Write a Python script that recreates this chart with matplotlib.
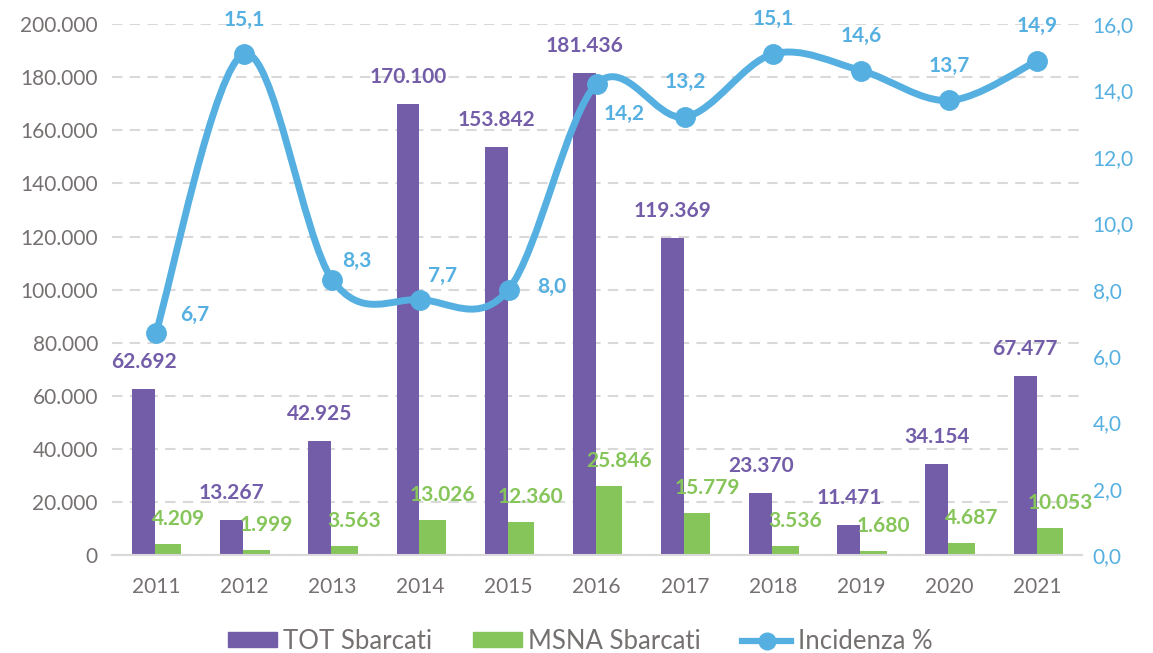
import numpy as np
import matplotlib.pyplot as plt
from matplotlib.path import Path
from matplotlib.patches import PathPatch, Patch
from matplotlib.lines import Line2D
from matplotlib.ticker import FuncFormatter

plt.rcParams['font.family'] = ['Lato', 'DejaVu Sans']

years = ['2011', '2012', '2013', '2014', '2015', '2016', '2017', '2018', '2019', '2020', '2021']
tot = [62692, 13267, 42925, 170100, 153842, 181436, 119369, 23370, 11471, 34154, 67477]
msna = [4209, 1999, 3563, 13026, 12360, 25846, 15779, 3536, 1680, 4687, 10053]
incid = [6.7, 15.1, 8.3, 7.7, 8.0, 14.2, 13.2, 15.1, 14.6, 13.7, 14.9]

PURPLE = '#735DA9'
GREEN = '#86C55A'
BLUE = '#55B0E1'
GRAY = '#767171'
GRID = '#D9D9D9'

# label offsets for the incidence series (pixels)
inc_off = [(39, 18), (0, 34), (25, 19), (22, 24), (43, 3), (27, -30),
           (0, 35), (0, 35), (0, 35), (0, 35), (0, 35)]

def fmt_it(v, pos=None):
    return f'{v:,.0f}'.replace(',', '.')

fig = plt.figure(figsize=(11.53, 6.53), dpi=100)
ax = fig.add_axes([0.097, 0.150, 0.841, 0.813])
ax2 = ax.twinx()

x = np.arange(len(years))
ax.bar(x - 0.27, tot, width=0.26, align='edge', color=PURPLE, zorder=2)
ax.bar(x - 0.01, msna, width=0.30, align='edge', color=GREEN, zorder=2)

for i in range(len(x)):
    ax.annotate(fmt_it(tot[i]), (x[i] - 0.14, tot[i]), xytext=(0, 27),
                textcoords='offset pixels', ha='center', va='center',
                color=PURPLE, fontsize=15, fontweight='bold', zorder=5)
    ax.annotate(fmt_it(msna[i]), (x[i] + 0.14, msna[i]), xytext=(10, 25),
                textcoords='offset pixels', ha='center', va='center',
                color=GREEN, fontsize=15, fontweight='bold', zorder=5)

ax.set_ylim(0, 200000)
ax.set_yticks(np.arange(0, 200001, 20000))
ax.yaxis.set_major_formatter(FuncFormatter(fmt_it))
ax.set_xlim(-0.5, len(years) - 0.5)
ax.set_xticks(x)
ax.set_xticklabels(years)
ax.grid(axis='y', color=GRID, linestyle=(0, (5, 3.5)), linewidth=1.5, zorder=0)
ax.set_axisbelow(True)

# smoothed line (Excel-like Catmull-Rom bezier through the points)
pts = np.column_stack([x, incid]).astype(float)
ext = np.vstack([pts[0], pts, pts[-1]])
verts = [pts[0]]
codes = [Path.MOVETO]
for i in range(len(pts) - 1):
    p0, p1, p2, p3 = ext[i], ext[i + 1], ext[i + 2], ext[i + 3]
    verts += [p1 + (p2 - p0) / 6, p2 - (p3 - p1) / 6, p2]
    codes += [Path.CURVE4] * 3
ax2.add_patch(PathPatch(Path(verts, codes), fill=False, edgecolor=BLUE,
                        linewidth=5, capstyle='round', joinstyle='round', zorder=3))
ax2.plot(x, incid, 'o', color=BLUE, markersize=14, zorder=4)
for i in range(len(x)):
    ax2.annotate(f'{incid[i]:.1f}'.replace('.', ','), (x[i], incid[i]),
                 xytext=inc_off[i], textcoords='offset pixels', ha='center',
                 va='center', color=BLUE, fontsize=15, fontweight='bold')
ax2.set_ylim(0, 16)
ax2.set_yticks(np.arange(0, 16.1, 2))
ax2.yaxis.set_major_formatter(FuncFormatter(lambda v, p: f'{v:.1f}'.replace('.', ',')))

for a in (ax, ax2):
    for s in a.spines.values():
        s.set_visible(False)
    a.tick_params(length=0)
ax.spines['bottom'].set_visible(True)
ax.spines['bottom'].set_color(GRID)
ax.spines['bottom'].set_linewidth(1.5)
ax.tick_params(axis='y', labelsize=15, labelcolor=GRAY, pad=10)
ax.tick_params(axis='x', labelsize=15, labelcolor=GRAY, pad=16)
ax2.tick_params(axis='y', labelsize=15, labelcolor=BLUE, pad=8)

handles = [Patch(color=PURPLE, label='TOT Sbarcati'),
           Patch(color=GREEN, label='MSNA Sbarcati'),
           Line2D([], [], color=BLUE, lw=4.5, marker='o', markersize=12, label='Incidenza %')]
leg = fig.legend(handles=handles, loc='center', bbox_to_anchor=(0.503, 0.018), ncol=3,
                 frameon=False, fontsize=18.5, handlelength=1.9, handleheight=0.5,
                 handletextpad=0.25, columnspacing=1.6, borderpad=0)
for t in leg.get_texts():
    t.set_color(GRAY)

fig.savefig('out.png', dpi=100)
